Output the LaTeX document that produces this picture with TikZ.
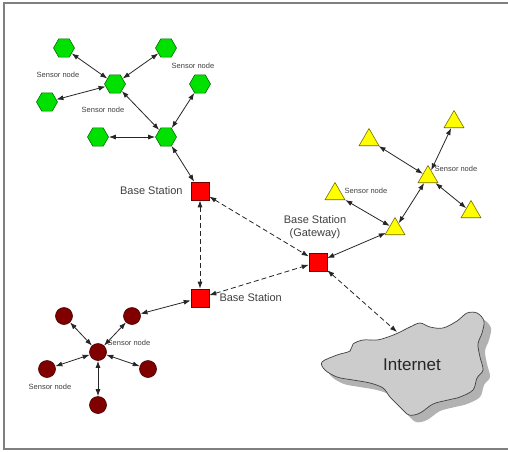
\documentclass[tikz,border=0pt]{standalone}
\usepackage{fontspec}
\setmainfont{Liberation Sans}
\usepackage{xcolor}
\usetikzlibrary{arrows.meta}
\usetikzlibrary{positioning, shapes.geometric}

\definecolor{hexgreen}{RGB}{0,225,0}
\definecolor{hexedge}{RGB}{0,110,0}
\definecolor{triyellow}{RGB}{255,255,0}
\definecolor{triedge}{RGB}{120,110,0}
\definecolor{dotred}{RGB}{128,0,0}
\definecolor{dotedge}{RGB}{70,0,0}
\definecolor{bsred}{RGB}{255,0,0}
\definecolor{bsedge}{RGB}{110,0,0}
\definecolor{labelgray}{RGB}{64,64,64}

\tikzset{
  hexnode/.style={regular polygon, regular polygon sides=6, minimum size=21pt,
    inner sep=0pt, fill=hexgreen, draw=hexedge, line width=0.6pt},
  trinode/.style={regular polygon, regular polygon sides=3, minimum size=23pt,
    inner sep=0pt, fill=triyellow, draw=triedge, line width=0.6pt},
  dotnode/.style={circle, minimum size=17pt, inner sep=0pt, fill=dotred,
    draw=dotedge, line width=0.6pt},
  bsnode/.style={rectangle, minimum size=18pt, inner sep=0pt, fill=bsred,
    draw=bsedge, line width=0.6pt},
  sensorlabel/.style={font=\fontsize{7.5}{9}\selectfont, text=labelgray, inner sep=1pt},
  bslabel/.style={font=\fontsize{11}{13}\selectfont, text=labelgray, inner sep=1pt, align=center},
  link/.style={draw=black!85, line width=0.8pt,
    {Latex[length=7pt,width=5pt]}-{Latex[length=7pt,width=5pt]}},
  radiolink/.style={link, dash pattern=on 5pt off 3pt}
}

\newcommand{\inetcloud}{plot[smooth cycle, tension=0.55] coordinates {
  (322,362) (337,355) (350,351) (353,344) (363,340) (377,340) (388,337)
  (398,333) (410,327) (420,323) (430,327) (443,328) (457,321) (467,313)
  (477,313) (484,321) (482,333) (478,344) (480,357) (483,370) (477,378)
  (473,390) (460,397) (448,400) (433,404) (420,413) (409,415) (400,407)
  (390,397) (383,388) (370,383) (353,380) (337,377) (325,370)}}

\begin{document}
\begin{tikzpicture}[x=1pt, y=-1pt]
  \useasboundingbox (0,0) rectangle (508,451);
  \fill[white] (0,0) rectangle (508,451);
  \draw[gray, line width=1.4pt] (508,3) -- (4,3) -- (4,449) -- (508,449);

  % green cluster
  \node[hexnode] (g1) at (64,48) {};
  \node[hexnode] (g2) at (166,48) {};
  \node[hexnode] (g3) at (115,84) {};
  \node[hexnode] (g4) at (47,102) {};
  \node[hexnode] (g5) at (200,84) {};
  \node[hexnode] (g6) at (98,137) {};
  \node[hexnode] (g7) at (166,137) {};

  % yellow cluster
  \node[trinode] (y1) at (454,122) {};
  \node[trinode] (y2) at (369,140) {};
  \node[trinode] (y3) at (428,177) {};
  \node[trinode] (y4) at (335,194) {};
  \node[trinode] (y5) at (471,212) {};
  \node[trinode] (y6) at (395,229) {};

  % red cluster
  \node[dotnode] (r1) at (64,316) {};
  \node[dotnode] (r2) at (132,316) {};
  \node[dotnode] (r3) at (98,352) {};
  \node[dotnode] (r4) at (47,369) {};
  \node[dotnode] (r5) at (148,369) {};
  \node[dotnode] (r6) at (98,405) {};

  % base stations
  \node[bsnode] (bs1) at (200,191) {};
  \node[bsnode] (bs2) at (200,298) {};
  \node[bsnode] (gw) at (318,262) {};
  \node[bslabel, left=7pt of bs1] (bs1lbl) {Base Station};
  \node[bslabel, right=9pt of bs2] (bs2lbl) {Base Station};
  \node[bslabel] (gwlbl) at (315,227) {Base Station\\(Gateway)};

  % internet
  \fill[black!30, shift={(7,7)}] \inetcloud;
  \filldraw[fill=black!20, draw=black!75, line width=0.7pt] \inetcloud;
  \node[font=\fontsize{17}{20}\selectfont, text=black!85] (inet) at (412,365) {Internet};
  \coordinate (inettop) at (397,332);

  % sensor labels
  \node[sensorlabel] (lg1) at (58,75) {Sensor node};
  \node[sensorlabel] (lg2) at (193,66) {Sensor node};
  \node[sensorlabel] (lg3) at (103,110) {Sensor node};
  \node[sensorlabel] (ly1) at (456,169) {Sensor node};
  \node[sensorlabel] (ly2) at (366,191) {Sensor node};
  \node[sensorlabel] (lr1) at (129,343) {Sensor node};
  \node[sensorlabel] (lr2) at (50,387) {Sensor node};

  % links
  \foreach \a/\b in {g1/g3, g2/g3, g4/g3, g3/g7, g5/g7, g6/g7, g7/bs1,
                     y1/y3, y2/y3, y5/y3, y3/y6, y4/y6, y6/gw,
                     r1/r3, r2/r3, r4/r3, r5/r3, r6/r3, r2/bs2}
    \draw[link] (\a) -- (\b);
  \draw[radiolink] (bs1) -- (bs2);
  \draw[radiolink] (bs1) -- (gw);
  \draw[radiolink] (bs2) -- (gw);
  \draw[radiolink] (gw) -- (inettop);
\end{tikzpicture}
\end{document}
